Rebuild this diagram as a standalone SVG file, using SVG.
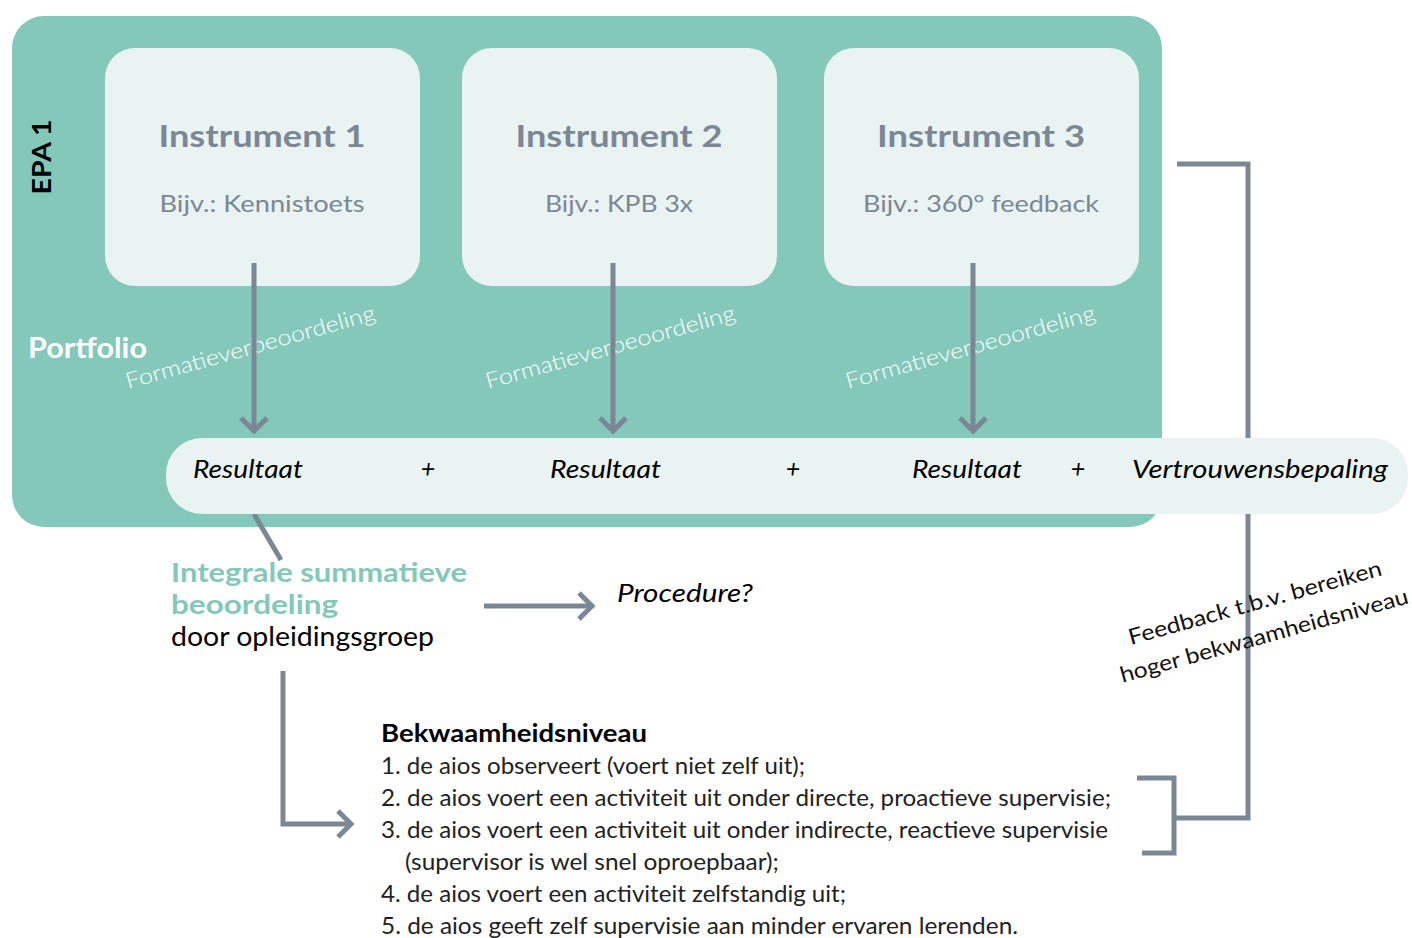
<svg xmlns="http://www.w3.org/2000/svg" width="1412" height="938" viewBox="0 0 1412 938">
<defs>
<style>
.t{font-family:Lato,"Liberation Sans",sans-serif}
.inst{font-weight:700;font-size:31px;fill:#7b8794;text-anchor:middle}
.sub{font-size:24px;fill:#7b8794;text-anchor:middle}
.res{font-style:italic;font-size:25px;fill:#000}
.form{font-size:22px;fill:#ffffff;font-weight:300}
.list{font-size:23px;fill:#222}
.ln{stroke:#7b8794;stroke-width:5;fill:none}
.box{fill:#e9f3f1}
</style>
<marker id="chev" markerUnits="userSpaceOnUse" markerWidth="40" markerHeight="40" refX="0" refY="0" orient="auto" overflow="visible">
<path d="M-13,-13 L0,0 L-13,13" fill="none" stroke="#7b8794" stroke-width="5"/>
</marker>
</defs>
<rect width="1412" height="938" fill="#ffffff"/>
<g id="epa">
<rect x="12" y="16" width="1150" height="511" rx="32" fill="#84c8ba"/>
<text class="t" transform="translate(51,157) rotate(-90)" text-anchor="middle" font-family="'Liberation Sans',sans-serif" font-weight="700" font-size="27" fill="#000" textLength="75" lengthAdjust="spacingAndGlyphs">EPA 1</text>
<text class="t" x="28" y="358" font-weight="700" font-size="28" fill="#fff" textLength="119" lengthAdjust="spacingAndGlyphs">Portfolio</text>
</g>
<g id="instrument1">
<rect class="box" x="105" y="48" width="315" height="238" rx="30"/>
<text class="t inst" x="262" y="147" textLength="207" lengthAdjust="spacingAndGlyphs">Instrument 1</text>
<text class="t sub" x="262" y="212" textLength="205" lengthAdjust="spacingAndGlyphs">Bijv.: Kennistoets</text>
</g>
<g id="instrument2">
<rect class="box" x="462" y="48" width="315" height="238" rx="30"/>
<text class="t inst" x="619" y="147" textLength="207" lengthAdjust="spacingAndGlyphs">Instrument 2</text>
<text class="t sub" x="619" y="212" textLength="148" lengthAdjust="spacingAndGlyphs">Bijv.: KPB 3x</text>
</g>
<g id="instrument3">
<rect class="box" x="824" y="48" width="315" height="238" rx="30"/>
<text class="t inst" x="981" y="147" textLength="208" lengthAdjust="spacingAndGlyphs">Instrument 3</text>
<text class="t sub" x="981" y="212" textLength="236" lengthAdjust="spacingAndGlyphs">Bijv.: 360° feedback</text>
</g>
<g id="labels-formatief">
<text class="t form" transform="translate(128,389) rotate(-15.6)" textLength="258" lengthAdjust="spacingAndGlyphs">Formatieverbeoordeling</text>
<text class="t form" transform="translate(488,389) rotate(-15.6)" textLength="258" lengthAdjust="spacingAndGlyphs">Formatieverbeoordeling</text>
<text class="t form" transform="translate(848,389) rotate(-15.6)" textLength="258" lengthAdjust="spacingAndGlyphs">Formatieverbeoordeling</text>
</g>
<g id="connectors">
<path class="ln" d="M254,263 V431" marker-end="url(#chev)"/>
<path class="ln" d="M613,263 V431" marker-end="url(#chev)"/>
<path class="ln" d="M973,263 V431" marker-end="url(#chev)"/>
<path class="ln" d="M254,514 L281,560"/>
<path class="ln" d="M484,606 H592" marker-end="url(#chev)"/>
<path class="ln" d="M283,671 V824 H351" marker-end="url(#chev)"/>
<path class="ln" d="M1137,778 H1174 V853 H1142 M1174,818 H1248 V164 H1177"/>
</g>
<g id="resultaat-bar">
<rect class="box" x="166" y="438" width="1242" height="76" rx="36"/>
<text class="t res" x="193" y="478" textLength="110" lengthAdjust="spacingAndGlyphs">Resultaat</text>
<text class="t res" x="428" y="478" text-anchor="middle">+</text>
<text class="t res" x="550" y="478" textLength="111" lengthAdjust="spacingAndGlyphs">Resultaat</text>
<text class="t res" x="793" y="478" text-anchor="middle">+</text>
<text class="t res" x="912" y="478" textLength="110" lengthAdjust="spacingAndGlyphs">Resultaat</text>
<text class="t res" x="1078" y="478" text-anchor="middle">+</text>
<text class="t res" x="1132" y="478" textLength="256" lengthAdjust="spacingAndGlyphs">Vertrouwensbepaling</text>
</g>
<g id="summatief">
<text class="t" x="171" y="582" font-weight="700" font-size="27" fill="#84c8ba" textLength="296" lengthAdjust="spacingAndGlyphs">Integrale summatieve</text>
<text class="t" x="171" y="614" font-weight="700" font-size="27" fill="#84c8ba" textLength="167" lengthAdjust="spacingAndGlyphs">beoordeling</text>
<text class="t" x="171" y="646" font-size="26" fill="#000" textLength="263" lengthAdjust="spacingAndGlyphs">door opleidingsgroep</text>
</g>
<g id="procedure">
<text class="t res" x="617" y="602" textLength="136" lengthAdjust="spacingAndGlyphs">Procedure?</text>
</g>
<g id="bekwaamheid">
<text class="t" x="381" y="742" font-weight="700" font-size="24" fill="#000" textLength="266" lengthAdjust="spacingAndGlyphs">Bekwaamheidsniveau</text>
<text class="t list" x="381" y="774" textLength="424" lengthAdjust="spacingAndGlyphs">1. de aios observeert (voert niet zelf uit);</text>
<text class="t list" x="381" y="806" textLength="730" lengthAdjust="spacingAndGlyphs">2. de aios voert een activiteit uit onder directe, proactieve supervisie;</text>
<text class="t list" x="381" y="838" textLength="727" lengthAdjust="spacingAndGlyphs">3. de aios voert een activiteit uit onder indirecte, reactieve supervisie</text>
<text class="t list" x="405" y="870" textLength="374" lengthAdjust="spacingAndGlyphs">(supervisor is wel snel oproepbaar);</text>
<text class="t list" x="381" y="902" textLength="465" lengthAdjust="spacingAndGlyphs">4. de aios voert een activiteit zelfstandig uit;</text>
<text class="t list" x="381" y="934" textLength="637" lengthAdjust="spacingAndGlyphs">5. de aios geeft zelf supervisie aan minder ervaren lerenden.</text>
</g>
<g id="feedback">
<text class="t" transform="translate(1257,610) rotate(-15.5)" text-anchor="middle" font-size="22" fill="#111" textLength="262" lengthAdjust="spacingAndGlyphs">Feedback t.b.v. bereiken</text>
<text class="t" transform="translate(1266,643) rotate(-15.5)" text-anchor="middle" font-size="22" fill="#111" textLength="298" lengthAdjust="spacingAndGlyphs">hoger bekwaamheidsniveau</text>
</g>
</svg>
